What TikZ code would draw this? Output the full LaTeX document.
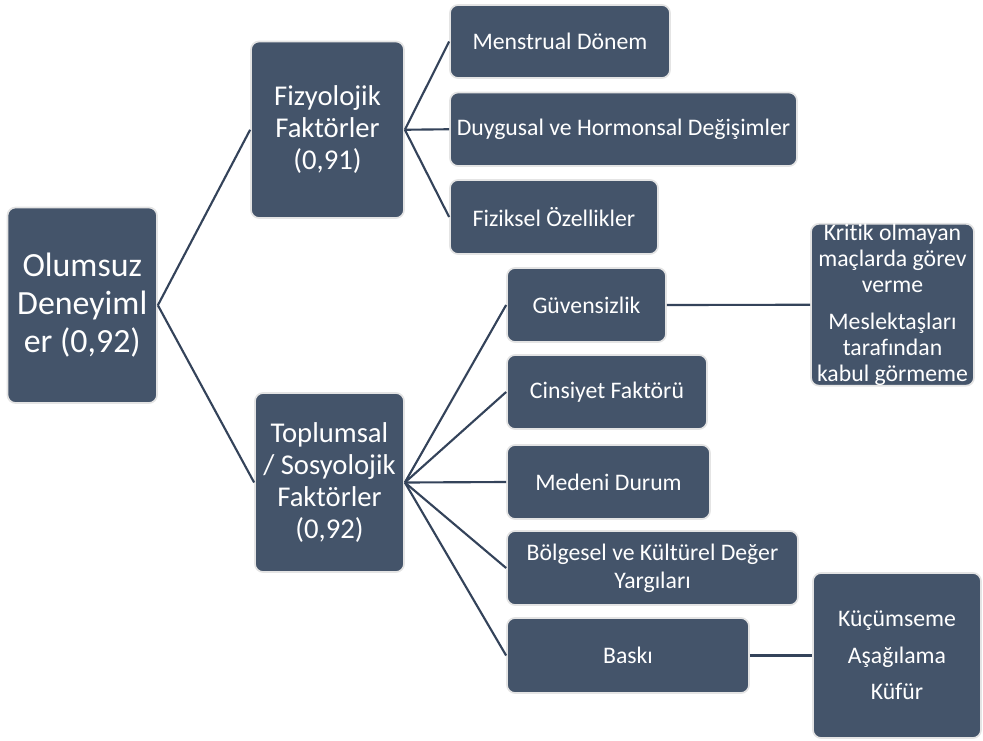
\documentclass[tikz,border=0pt]{standalone}
\usepackage{fontspec}
\setmainfont{Carlito}[Ligatures=NoCommon]
\usepackage{tikz}
\usepackage{xcolor}
\definecolor{boxfill}{HTML}{44546A}
\definecolor{boxedge}{HTML}{E4E4E4}
\definecolor{linkcol}{HTML}{34435A}

\begin{document}
\begin{tikzpicture}[x=0.75pt, y=-0.75pt,
    box/.style 2 args={draw=boxedge, line width=1.3pt, fill=boxfill, text=white,
        rounded corners=6pt, align=center, inner sep=0pt,
        minimum width=#1*0.75pt, minimum height=#2*0.75pt},
    bigtxt/.style={font=\fontsize{25.4}{28.5}\selectfont},
    midtxt/.style={font=\fontsize{21.5}{24}\selectfont},
    smalltxt/.style={font=\fontsize{17.8}{21}\selectfont},
    link/.style={draw=linkcol, line width=1.6pt}]
    \useasboundingbox (0,0) rectangle (983,740);

    % Root
    \node[box={149.5}{195.5}, bigtxt] (root) at (82.25,305.25) {Olumsuz\\Deneyiml\\er (0,92)};

    % Second level
    \node[box={153}{176.5}, midtxt] (fiz) at (327.5,129.75) {Fizyolojik\\Faktörler\\(0,91)};
    \node[box={149}{179}, midtxt] (top) at (329.5,482.5) {Toplumsal\\/ Sosyolojik\\Faktörler\\(0,92)};

    % Physiological factors
    \node[box={220}{73}, smalltxt] (mens) at (560,41.5) {Menstrual Dönem};
    \node[box={347}{73.5}, smalltxt] (duyg) at (623.5,129.25) {Duygusal ve Hormonsal Değişimler};
    \node[box={208}{74}, smalltxt] (fizik) at (554,217) {Fiziksel Özellikler};

    % Social factors
    \node[box={159}{74}, smalltxt] (guv) at (586.5,305) {Güvensizlik};
    \node[box={200}{74}, smalltxt] (cins) at (607,392) {Cinsiyet Faktörü};
    \node[box={203}{74}, smalltxt] (med) at (608.5,482) {Medeni Durum};
    \node[box={291}{74}, smalltxt] (bolg) at (652.5,568) {Bölgesel ve Kültürel Değer\\Yargıları};
    \node[box={242}{75}, smalltxt] (bask) at (628,655.5) {Baskı};

    % Third level
    \node[box={163}{156.5}, font=\fontsize{17.8}{19.6}\selectfont] (krit) at (892.5,304.75)
        {Kritik olmayan\\maçlarda görev\\verme\\[8pt]Meslektaşları\\tarafından\\kabul görmeme};
    \node[box={168}{165}, font=\fontsize{17.8}{27.4}\selectfont] (kuc) at (897,655.5)
        {Küçümseme\\Aşağılama\\Küfür};

    % Connectors
    \draw[link] (root.east) -- (fiz.west);
    \draw[link] (root.east) -- (top.west);
    \foreach \c in {mens, duyg, fizik}
        \draw[link] (fiz.east) -- (\c.west);
    \foreach \c in {guv, cins, med, bolg, bask}
        \draw[link] (top.east) -- (\c.west);
    \draw[link] (guv.east) -- (krit.west);
    \draw[link] (bask.east) -- (kuc.west);
\end{tikzpicture}
\end{document}
